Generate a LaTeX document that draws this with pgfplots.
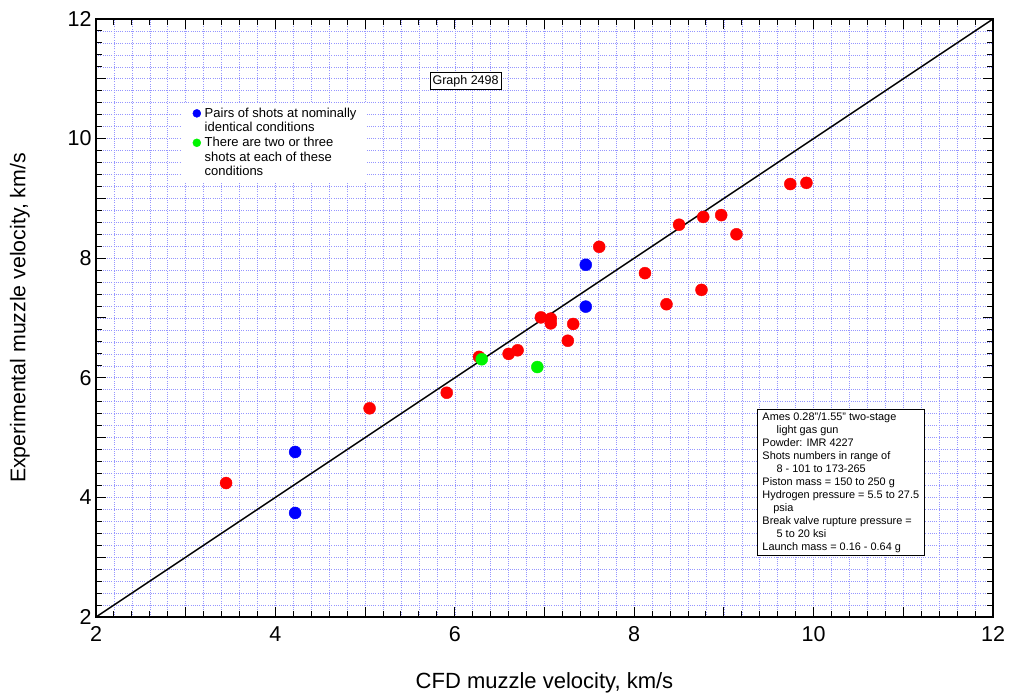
\documentclass[border=0pt]{standalone}
\usepackage{fontspec}
\setmainfont{Liberation Sans}
\usepackage{pgfplots}
\pgfplotsset{compat=1.18}
\definecolor{gridblue}{RGB}{150,150,255}
\definecolor{pred}{RGB}{255,0,0}
\definecolor{pgreen}{RGB}{0,245,0}
\definecolor{pblue}{RGB}{0,0,255}
\begin{document}
\begin{tikzpicture}
\useasboundingbox (-96pt,-79pt) rectangle (913pt,617pt);
\begin{axis}[
  scale only axis, width=897pt, height=598pt,
  xmin=2, xmax=12, ymin=2, ymax=12,
  xtick={2,...,12}, ytick={2,...,12},
  xticklabels={2,,4,,6,,8,,10,,12},
  yticklabels={2,,4,,6,,8,,10,,12},
  minor tick num=4,
  grid=both,
  major grid style={gridblue, dash pattern=on 1pt off 1.2pt, line width=0.6pt},
  minor grid style={gridblue, dash pattern=on 1pt off 1.2pt, line width=0.6pt},
  tick align=inside,
  major tick length=10pt, minor tick length=6pt,
  tick style={black, line width=1pt},
  axis line style={line width=1.4pt},
  ticklabel style={font=\fontsize{21.5}{21.5}\selectfont},
  xticklabel style={yshift=-6pt},
  yticklabel style={xshift=-1pt},
  /pgf/number format/assume math mode=true,
  xlabel={CFD muzzle velocity, km/s},
  ylabel={Experimental muzzle velocity, km/s},
  xlabel style={font=\fontsize{22}{24}\selectfont, at={(axis description cs:0.5,-0.11)}, anchor=center},
  ylabel style={font=\fontsize{21.3}{23}\selectfont, at={(axis description cs:-0.085,0.5)}, anchor=center},
  legend style={at={(0.094,0.86)}, anchor=north west, draw=none, fill=white,
    font=\fontsize{13}{14.5}\selectfont, cells={anchor=west, align=left},
    inner xsep=9pt, inner ysep=3pt, row sep=0pt},
  legend image code/.code={\path (0cm,0cm) (0.45cm,0cm); \draw[#1, mark size=4pt] plot coordinates {(0.25cm,0cm)};},
]
\addplot[black, line width=1.5pt, forget plot] coordinates {(2,2) (12,12)};
\addplot[only marks, mark=*, mark size=6pt, pred, forget plot] coordinates {
(3.45,4.24) (5.05,5.49) (5.91,5.75) (6.27,6.35) (6.60,6.40) (6.70,6.46)
(6.96,7.01) (7.07,6.99) (7.07,6.91) (7.32,6.90) (7.26,6.62) (7.61,8.19)
(8.12,7.75) (8.36,7.23) (8.75,7.47) (9.14,8.40) (8.50,8.56) (8.77,8.69)
(8.97,8.72) (9.74,9.24) (9.92,9.26)
};
\addplot[only marks, mark=*, mark size=6pt, pblue, legend image post style={yshift=7.25pt}] coordinates {
(4.22,4.76) (4.22,3.74) (7.46,7.89) (7.46,7.19)
};
\addlegendentry{Pairs of shots at nominally\\identical conditions}
\addplot[only marks, mark=*, mark size=6pt, pgreen, legend image post style={yshift=14.5pt}] coordinates {
(6.30,6.31) (6.92,6.18)
};
\addlegendentry{There are two or three\\shots at each of these\\conditions}
\node[draw, fill=white, line width=0.8pt, inner sep=2.5pt, font=\fontsize{12.5}{13}\selectfont]
  at (axis cs:6.12,10.96) {Graph 2498};
\node[draw, fill=white, line width=0.8pt, anchor=north west, inner xsep=5pt, inner ysep=3pt,
  align=left, font=\fontsize{10.9}{13}\selectfont] at (axis cs:9.37,5.48)
  {Ames 0.28"/1.55" two-stage\\
   \hspace*{1.3em}light gas gun\\
   Powder: IMR 4227\\
   Shots numbers in range of\\
   \hspace*{1.3em}8 - 101 to 173-265\\
   Piston mass = 150 to 250 g\\
   Hydrogen pressure = 5.5 to 27.5\\
   \hspace*{1em}psia\\
   Break valve rupture pressure =\\
   \hspace*{1.3em}5 to 20 ksi\\
   Launch mass = 0.16 - 0.64 g};
\end{axis}
\end{tikzpicture}
\end{document}
